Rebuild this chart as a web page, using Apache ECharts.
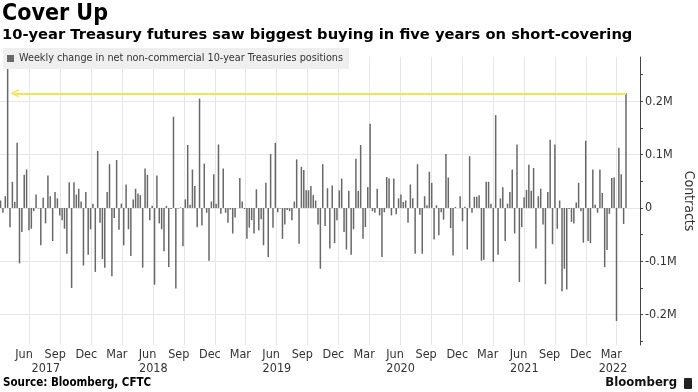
<!DOCTYPE html>
<html>
<head>
<meta charset="utf-8">
<script src="https://cdn.jsdelivr.net/npm/echarts@6/dist/echarts.min.js"></script>
<style>
html,body{margin:0;padding:0;background:#fff;}
#chart{width:698px;height:392px;}
</style>
</head>
<body>
<div id="chart"></div>
<script>
// ---- data ----
const titleText = 'Cover Up';
const subtitleText = '10-year Treasury futures saw biggest buying in five years on short-covering';
const seriesName = 'Weekly change in net non-commercial 10-year Treasuries positions';
const sourceText = 'Source: Bloomberg, CFTC';
const firstWeek = '2017-04-07';
// weekly change, thousands of contracts
const weeklyChange = [
 14,-9,22,270,-36,49,11,122,-104,-45,
 62,72,-42,-39,-6,25,-1,-70,19,-29,
 61,22,-62,30,18,-14,-23,-39,-86,48,
 -150,48,25,36,12,-108,30,-88,-40,8,
 -120,107,-28,-96,-112,30,82,-128,-19,90,
 -41,8,-70,44,-40,-90,16,36,27,24,
 -112,74,62,-23,4,-144,61,-29,-40,-81,
 4,-111,-2,171,-151,-1,1,-72,16,118,
 6,72,41,-36,205,-33,83,-9,-99,12,
 63,8,119,-11,74,-9,-28,-3,-48,-18,
 0,56,12,-2,-58,-37,-23,-48,35,-42,
 -21,-70,47,-92,101,-37,122,-8,-1,-58,
 -31,-4,-6,-23,12,91,-67,77,71,33,
 33,41,24,14,-31,-114,82,-34,37,-76,
 42,-66,-23,33,55,-45,-78,32,-88,-40,
 92,32,118,-58,-36,39,158,-6,-9,36,
 -14,-92,-8,58,55,-14,55,-12,18,25,
 11,14,-28,44,18,-86,82,-13,-86,22,
 5,68,47,-59,5,-51,-8,-22,101,57,
 -38,-89,2,0,22,-25,2,-78,97,-9,
 21,21,24,-99,-97,49,49,8,-101,174,
 -88,18,39,-62,8,30,72,-48,119,-139,
 -36,20,34,81,32,75,-76,22,36,-31,
 -143,30,128,-68,119,-39,14,-156,-114,-153,
 -2,-26,-29,10,47,-6,-65,126,-62,-66,
 72,6,-9,72,28,-111,-79,-11,56,57,
 -212,113,63,-30,215
];
const monthNames = ['Jan','Feb','Mar','Apr','May','Jun','Jul','Aug','Sep','Oct','Nov','Dec'];
const yLabelValues = [-0.2,-0.1,0,0.1,0.2];
const yMinorValues = [-0.25,-0.15,-0.05,0.05,0.15,0.25];
const years = [2017,2018,2019,2020,2021,2022];

// ---- build ----
const DAY = 86400000;
const t0 = Date.parse(firstWeek + 'T00:00:00Z');
const dates = weeklyChange.map((_, i) => t0 + i * 7 * DAY);
const barData = weeklyChange.map((v, i) => [dates[i], v / 1000]);
const lastValue = weeklyChange[weeklyChange.length - 1] / 1000;

const xMin = Date.UTC(2017, 3, 5, 10);
const xMax = Date.UTC(2022, 5, 9, 10);

const quarterBounds = [];
for (let y = 2017; y <= 2022; y++) {
  for (const m of [0, 3, 6, 9]) {
    const t = Date.UTC(y, m, 1);
    if (t > xMin + 40 * DAY && t < xMax - 40 * DAY) quarterBounds.push(t);
  }
}
const monthLabelPos = quarterBounds.map(t => t - 15.5 * DAY);
const yearLabelPos = years.map(y => {
  const a = Math.max(Date.UTC(y, 0, 1), xMin);
  const b = Math.min(Date.UTC(y + 1, 0, 1), xMax);
  return (a + b) / 2;
});

const FONT = "'DejaVu Sans Condensed','DejaVu Sans',sans-serif";
const FONT_W = "'DejaVu Sans',sans-serif";
const chart = echarts.init(document.getElementById('chart'), null, {renderer: 'canvas'});
chart.setOption({
  animation: false,
  backgroundColor: '#ffffff',
  title: [
    {text: titleText, left: 0, top: 1, padding: [2, 2],
     textStyle: {fontFamily: FONT, fontWeight: 'bold', fontSize: 23, color: '#000'}},
    {text: subtitleText, left: 0, top: 26, padding: [2, 2],
     textStyle: {fontFamily: FONT_W, fontWeight: 'bold', fontSize: 14.7, color: '#000'}},
    {text: sourceText, left: 1, top: 375, padding: [2, 2],
     textStyle: {fontFamily: FONT, fontWeight: 'bold', fontSize: 11.5, color: '#000'}}
  ],
  graphic: [
    {type: 'text', right: 21, top: 376,
     style: {text: 'Bloomberg', font: "bold 13px " + FONT, fill: '#111'}},
    {type: 'rect', right: 6, top: 378, shape: {width: 8, height: 11, r: 1}, style: {fill: '#222'}}
  ],
  legend: {
    data: [seriesName], left: 3, top: 48, orient: 'horizontal',
    icon: 'rect', itemWidth: 7, itemHeight: 7, itemGap: 4,
    padding: [5, 6, 5, 4], backgroundColor: '#efefef',
    textStyle: {fontFamily: FONT, fontSize: 10.75, color: '#333'}
  },
  grid: {left: 0, right: 58, top: 57, bottom: 47, containLabel: false, outerBoundsMode: 'none'},
  xAxis: [
    {type: 'value', min: xMin, max: xMax,
     axisLine: {show: false}, axisTick: {show: false, customValues: quarterBounds},
     splitLine: {show: true, lineStyle: {color: '#e6e6e6', width: 1}},
     axisLabel: {customValues: monthLabelPos, margin: 3, fontFamily: FONT, fontSize: 12.5, color: '#333',
       formatter: v => monthNames[new Date(v).getUTCMonth()]}},
    {type: 'value', min: xMin, max: xMax, position: 'bottom', offset: 14,
     axisLine: {show: false}, axisTick: {show: false}, splitLine: {show: false},
     axisLabel: {customValues: yearLabelPos, margin: 3, fontFamily: FONT, fontSize: 12.5, color: '#333',
       formatter: v => String(new Date(v).getUTCFullYear())}}
  ],
  yAxis: [
    {type: 'value', position: 'right', min: -0.257, max: 0.283,
     name: 'Contracts', nameLocation: 'middle', nameRotate: -90, nameGap: 42, nameMoveOverlap: false,
     nameTextStyle: {fontFamily: FONT, fontSize: 14, color: '#333'},
     axisLine: {show: true, lineStyle: {color: '#444', width: 1}},
     axisTick: {show: true, length: 3, customValues: yLabelValues, lineStyle: {color: '#444'}},
     splitLine: {show: true, lineStyle: {color: '#e6e6e6', width: 1}},
     axisLabel: {customValues: yLabelValues, margin: 5, fontFamily: FONT, fontSize: 12.5, color: '#333',
       formatter: v => Math.abs(v) < 1e-9 ? '0' : (v.toFixed(1) + 'M')}},
    {type: 'value', position: 'right', min: -0.257, max: 0.283,
     axisLine: {show: false}, splitLine: {show: false}, axisLabel: {show: false},
     axisTick: {show: true, length: 3, customValues: yMinorValues, lineStyle: {color: '#444'}}}
  ],
  series: [{
    name: seriesName, type: 'bar', xAxisIndex: 0, yAxisIndex: 0,
    data: barData, barWidth: 1.5, itemStyle: {color: '#686868'},
    markLine: {
      silent: true, animation: false,
      symbol: ['path://M5,0 L10,8 L8.6,9 L5,3.2 L1.4,9 L0,8 Z', 'none'], symbolSize: [8, 9],
      label: {show: false},
      lineStyle: {color: '#f3e649', width: 1.8, type: 'solid'},
      data: [[{coord: [dates[6], lastValue]}, {coord: [dates[dates.length - 1], lastValue]}]]
    }
  }]
});
</script>
</body>
</html>
